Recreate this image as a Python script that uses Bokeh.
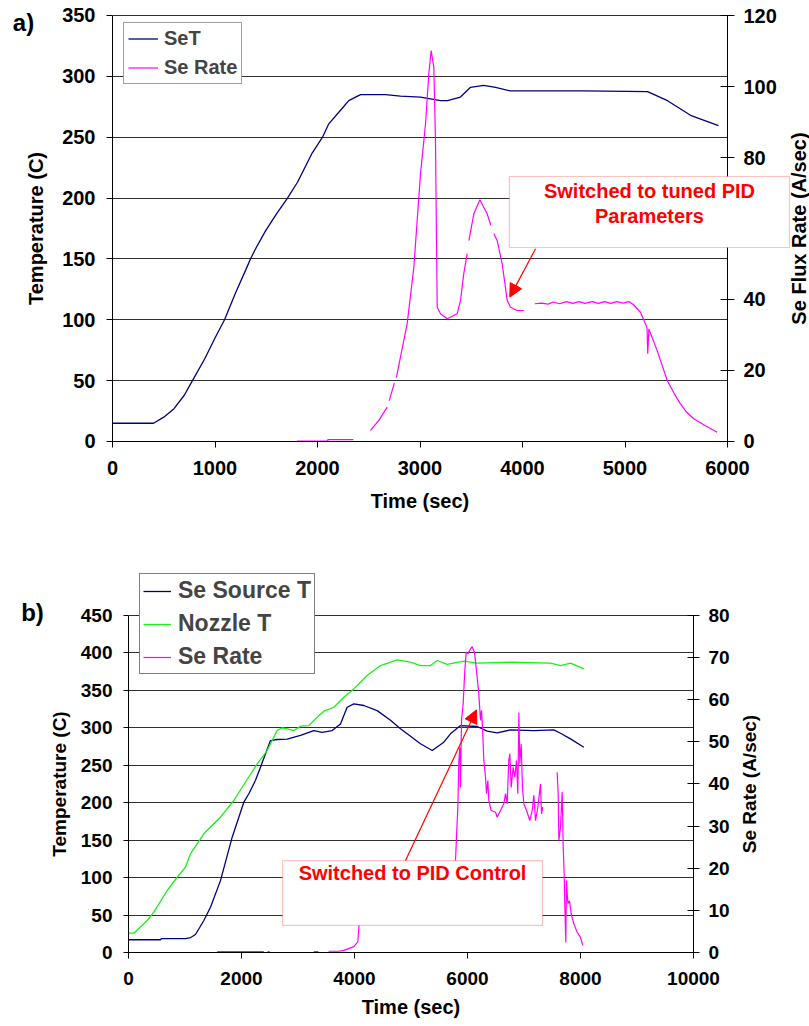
import math
from bokeh.plotting import figure
from bokeh.models import (Range1d, LinearAxis, FixedTicker, BoxAnnotation, Label,
                          Arrow, NormalHead, Grid)
from bokeh.layouts import column
from bokeh.embed import file_html
from bokeh.resources import INLINE

NAN = float("nan")
FONT = "Liberation Sans"

# ---------------- chart a) data ----------------
a_set_t = [0, 400, 500, 600, 700, 780, 900, 1000, 1093, 1200, 1300, 1346, 1400, 1493, 1600,
           1707, 1805, 1948, 2049, 2110, 2254, 2305, 2420, 2663, 2810, 3005, 3200, 3268, 3395,
           3493, 3620, 3737, 3883, 4600, 5220, 5415, 5639, 5912]
a_set_v = [15, 15, 20, 27, 38, 50, 68, 85, 100, 122, 141, 150, 159, 173, 187,
           200, 213, 237, 250, 261, 275, 280, 285, 285, 283.7, 283, 280, 280, 283,
           291, 292.5, 291, 288, 288, 287.5, 280, 268, 259.6]

a_rate_t = [1800, 2100, 2100, 2350, NAN,
            2517, 2600, 2680, NAN, 2700, 2750, NAN, 2770, 2777, 2875, 2940, 3005, 3054, 3086, 3109,
            3135, 3151, 3161, 3168, 3200, 3265, 3363, 3395, 3427, 3460, NAN,
            3477, 3525, 3584, 3656, 3690, NAN, 3720, 3753, 3802, 3851, 3883, 3948, 4013, NAN,
            4120, 4185, 4250, 4300, 4360, 4430, 4490, 4550, 4610, 4680, 4740, 4800, 4860, 4920,
            4980, 5037, 5080, 5151, 5200, 5215, 5222, 5233, 5314, 5412, 5480, 5541, 5600, 5671,
            5780, 5899]
a_rate_v = [0.1, 0.1, 0.5, 0.5, NAN,
            3.1, 6.0, 9.7, NAN, 11.5, 16.5, NAN, 18.0, 19.1, 33.2, 49.1, 75.4, 89.5, 103.6, 110.1,
            105.4, 84.8, 56.6, 37.8, 36.0, 34.6, 36.0, 39.7, 47.3, 52.9, NAN,
            56.6, 64.1, 68.1, 64.1, 61.0, NAN, 58.5, 56.6, 50.0, 39.7, 37.8, 36.9, 36.9, NAN,
            38.8, 39.0, 38.7, 39.3, 38.8, 39.4, 38.9, 39.4, 38.9, 39.4, 38.9, 39.4, 38.9, 39.4,
            39.0, 39.4, 38.6, 36.4, 33.1, 32.0, 24.7, 31.7, 25.6, 17.2, 13.5, 10.6, 8.3, 6.4,
            4.5, 2.6]

a_x_ticks = [0, 1000, 2000, 3000, 4000, 5000, 6000]
a_y_ticks = [0, 50, 100, 150, 200, 250, 300, 350]
a_r_ticks = [0, 20, 40, 60, 80, 100, 120]

# ---------------- chart b) data ----------------
b_src_t = [0, 566, 580, 1009, 1100, 1186, 1333, 1451, 1628, 1835, 2041, 2130, 2248, 2336,
           2513, 2631, 2808, 3044, 3280, 3428, 3605, 3752, 3870, 3988, 4165, 4401, 4637, 4814,
           5168, 5375, 5581, 5699, 5876, 6171, 6348, 6525, 6761, 7174, 7528, 7646, 7823, 8059]
b_src_v = [17, 17, 18.5, 18.5, 20, 24, 42.7, 60.5, 96, 154, 200.7, 212, 230, 247.5,
           283, 284.4, 285, 289.8, 296.4, 294, 296.4, 305, 327.5, 332, 329.8, 323, 310, 298.7,
           278.7, 269.7, 280.8, 292, 303, 301.8, 295.5, 293.3, 297.3, 296.4, 297.3, 292.8, 285.3, 274.1]

b_noz_t = [0, 94, 331, 448, 685, 862, 1009, 1097, 1333, 1628, 1864, 2100, 2277, 2454, 2631,
           2720, 2808, 2926, 3044, 3191, 3339, 3457, 3634, 3811, 3988, 4224, 4460, 4755, 4991,
           5168, 5345, 5463, 5640, 5935, 6171, 6761, 7469, 7646, 7823, 8059]
b_noz_v = [25.8, 25.8, 42.7, 53.8, 82.8, 100.5, 113.9, 131.8, 158.5, 180.7, 203, 231, 252, 269.7, 296.4,
           300, 298.7, 296.4, 302.2, 303, 314.2, 322.2, 327.5, 340.9, 352, 369.9, 383.2, 390.8, 387.6,
           383.2, 383.2, 389.9, 384.6, 389, 386.3, 387.6, 386.3, 383.2, 386.3, 378.8]

b_rate_t = [1570, 2395, NAN, 2460, 2500, NAN, 3280, 3363, NAN,
            3540, 3720, 3811, 3988, 4059, 4077, 4100, 4500, 5000, 5500, 5788, 5805, 5829, 5847,
            5864, 5876, 5894, 5923, 5952, 5976, 6011, 6053, 6082, 6124, 6159, 6200, 6230, 6248,
            6265, 6289, 6319, 6336, 6360, 6377, 6419, 6496, 6525, 6584, 6643, 6673, 6702, 6731,
            6749, 6773, 6808, 6837, 6867, 6891, 6909, 6926, 6950, 6973, 6997, 7056, 7103, 7145,
            7174, 7204, 7245, 7292, 7310, 7333, NAN,
            7587, 7605, 7617, 7646, 7676, 7694, 7711, 7722, 7740, 7752, 7776, 7805, 7835, 7882,
            7941, 8000, 8041]
b_rate_v = [0.2, 0.2, NAN, 0.2, 0.2, NAN, 0.2, 0.2, NAN,
            0.3, 0.3, 0.5, 1.4, 2.5, 6.0, 8.0, 10.0, 12.0, 15.0, 21.8, 27.4, 34.5, 45.6,
            48.7, 39.2, 55.1, 59.0, 66.9, 71.3, 70.9, 72.1, 72.6, 71.3, 66.9, 61.4, 55.1, 57.5,
            53.5, 45.6, 41.6, 37.7, 40.8, 36.1, 33.7, 33.3, 32.1, 33.7, 35.3, 37.7, 35.3, 45.6,
            47.2, 39.2, 44.0, 41.6, 45.6, 37.7, 57.0, 44.8, 49.5, 39.2, 35.3, 33.3, 31.3, 33.7,
            37.3, 31.3, 34.5, 40.0, 32.9, 34.5, NAN,
            42.8, 37.7, 26.6, 29.7, 38.1, 25.0, 18.7, 11.6, 2.4, 17.1, 11.6, 12.3, 9.2, 6.8,
            4.8, 3.6, 1.7]

b_x_ticks = [0, 2000, 4000, 6000, 8000, 10000]
b_y_ticks = [0, 50, 100, 150, 200, 250, 300, 350, 400, 450]
b_r_ticks = [0, 10, 20, 30, 40, 50, 60, 70, 80]

NAVY = "#000080"
MAG = "#ff00ff"
GREEN = "#19f019"
RED = "#ff0000"
GRID = "#303030"

HAS_CB = "cross_bounds" in Grid.properties()


def style_axis(ax, size="20px", tsize="20px"):
    ax.major_label_text_font = FONT
    ax.major_label_text_font_style = "bold"
    ax.major_label_text_font_size = size
    ax.major_label_text_color = "black"
    ax.axis_label_text_font = FONT
    ax.axis_label_text_font_style = "bold"
    ax.axis_label_text_font_size = tsize
    ax.axis_label_text_color = "black"
    ax.minor_tick_line_color = None
    ax.axis_line_color = "black"
    ax.major_tick_line_color = "black"


def make_fig(w, h, xr, yr, rr):
    p = figure(width=w, height=h, output_backend="svg", toolbar_location=None,
               x_range=Range1d(*xr), y_range=Range1d(*yr),
               min_border=0, min_border_left=0, min_border_right=0,
               min_border_top=0, min_border_bottom=0)
    p.extra_y_ranges = {"rate": Range1d(*rr)}
    p.outline_line_color = None
    p.background_fill_color = "white"
    p.border_fill_color = "white"
    p.xgrid.grid_line_color = None
    return p


def setup_axes(p, xt, yt, rt, xmax, ymax, rmax, xlabel, ylabel, st):
    p.xaxis.ticker = FixedTicker(ticks=xt)
    p.yaxis.ticker = FixedTicker(ticks=yt)
    p.xaxis.fixed_location = 0
    p.yaxis.fixed_location = 0
    p.xaxis.bounds = (0, xmax)
    p.yaxis.bounds = (0, ymax)
    p.xaxis.axis_label = xlabel
    p.yaxis.axis_label = ylabel
    style_axis(p.xaxis[0], st["fs"], "20px")
    style_axis(p.yaxis[0], st["fs"], st["ts"])
    p.xaxis.major_tick_out = 6
    p.xaxis.major_tick_in = 0
    p.xaxis.major_label_standoff = st["xs"]
    p.xaxis.axis_label_standoff = st["xl"]
    p.yaxis.major_tick_out = st["yt"]
    p.yaxis.major_tick_in = 0
    p.yaxis.major_label_standoff = st["ys"]
    p.yaxis.axis_label_standoff = st["yl"]

    r = LinearAxis(y_range_name="rate", ticker=FixedTicker(ticks=rt),
                   fixed_location=xmax, bounds=(0, rmax))
    style_axis(r, st["fs"], st["ts"])
    r.major_tick_out = st["rt"]
    r.major_tick_in = st["rt"]
    r.major_label_standoff = st["rs"]
    p.add_layout(r, "right")

    if HAS_CB:
        p.ygrid.cross_bounds = (0, xmax)
        p.ygrid.grid_line_color = GRID
        p.ygrid.grid_line_width = 1
    else:
        p.ygrid.grid_line_color = None
        p.segment(x0=[0] * len(yt), x1=[xmax] * len(yt), y0=yt, y1=yt,
                  line_color=GRID, line_width=1, level="underlay")


def style_legend(lg, loc, size, gw, gh, sp, pad, stand, border):
    lg.location = loc
    lg.border_line_color = border
    lg.border_line_width = 1
    lg.background_fill_color = "white"
    lg.background_fill_alpha = 1
    lg.label_text_font = FONT
    lg.label_text_font_style = "bold"
    lg.label_text_font_size = size
    lg.glyph_width = gw
    lg.glyph_height = gh
    lg.label_height = gh
    lg.label_standoff = stand
    lg.spacing = sp
    lg.padding = pad
    lg.margin = 0


def text(p, x, y, s, size, color="black", angle=0.0):
    p.add_layout(Label(x=x, y=y, text=s, angle=angle, text_align="center", text_baseline="middle",
                       text_color=color, text_font=FONT, text_font_style="bold",
                       text_font_size=size))


# ================= figure a =================
# frame = whole canvas; t=0 at 112px, t=6000 at 727px; y=0 at 441px, y=350 at 15px
pa = make_fig(809, 545, (-1092.7, 6800.0), (-85.45, 362.32), (-29.30, 124.23))
pa.line(a_set_t, a_set_v, color=NAVY, line_width=1.3, legend_label="SeT")
pa.line(a_rate_t, a_rate_v, color=MAG, line_width=1.2, y_range_name="rate", legend_label="Se Rate")
setup_axes(pa, a_x_ticks, a_y_ticks, a_r_ticks, 6000, 350, 120,
           "Time (sec)", "Temperature (C)",
           dict(fs="20px", ts="20px", xs=14, xl=11, yt=6, ys=11, yl=12, rt=7, rs=9))
style_legend(pa.legend[0], (123, 461), "20px", 30, 23, 6, 4, 6, "#404040")
text(pa, 6702, 175, "Se Flux Rate (A/sec)", "20px", angle=math.pi / 2)

pa.add_layout(BoxAnnotation(left=3873, right=6605, bottom=159.4, top=217.7,
                            fill_color="white", fill_alpha=1, line_color="#ff3030", line_width=1.2))
text(pa, 5239, 206.2, "Switched to tuned PID", "20px", RED)
text(pa, 5239, 184.9, "Parameters", "20px", RED)
pa.add_layout(Arrow(x_start=4127, y_start=158.3, x_end=3876, y_end=118.6, line_color=RED, line_width=1.2,
                    end=NormalHead(size=13, fill_color=RED, line_color=RED)))
text(pa, -868, 344.2, "a)", "24px")

# ================= figure b =================
# frame = whole canvas; t=0 at 128px, t=10000 at 693px; y=0 at 407px, y=450 at 70px
pb = make_fig(809, 481, (-2265.5, 12053.1), (-98.81, 543.47), (-17.567, 96.617))
pb.line(b_src_t, b_src_v, color=NAVY, line_width=1.3, legend_label="Se Source T")
pb.line(b_noz_t, b_noz_v, color=GREEN, line_width=1.3, legend_label="Nozzle T")
pb.line(b_rate_t, b_rate_v, color=MAG, line_width=1.2, y_range_name="rate", legend_label="Se Rate")
setup_axes(pb, b_x_ticks, b_y_ticks, b_r_ticks, 10000, 450, 80,
           "Time (sec)", "Temperature (C)",
           dict(fs="19px", ts="19px", xs=13, xl=8, yt=5, ys=11, yl=8, rt=6, rs=9))
style_legend(pb.legend[0], (139, 352), "23px", 28, 26, 6, 3, 7, "black")
text(pb, 10991, 225, "Se Rate (A/sec)", "19px", angle=math.pi / 2)

pb.add_layout(BoxAnnotation(left=2726, right=7327, bottom=36.1, top=122.8,
                            fill_color="white", fill_alpha=1, line_color="#ff3030", line_width=1.2))
text(pb, 5027, 105.5, "Switched to PID Control", "20px", RED)
pb.add_layout(Arrow(x_start=4903, y_start=122.8, x_end=6159, y_end=324, line_color=RED, line_width=1.2,
                    end=NormalHead(size=13, fill_color=RED, line_color=RED)))
text(pb, -1699, 454, "b)", "24px")

layout = column(pa, pb, spacing=0)
open("out.html", "w").write(file_html(layout, INLINE))
